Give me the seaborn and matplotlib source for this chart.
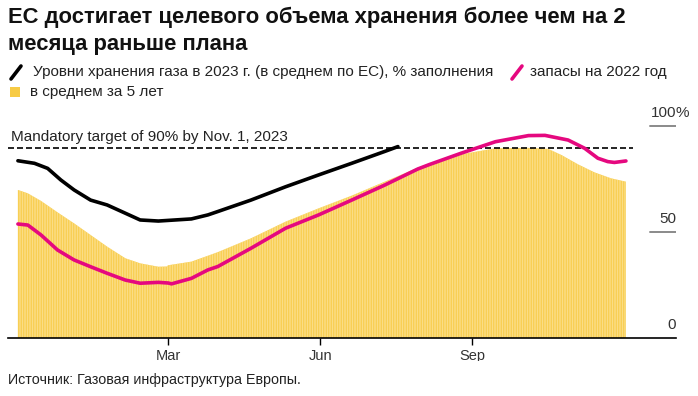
import matplotlib
matplotlib.use("Agg")
import matplotlib.pyplot as plt
from matplotlib.lines import Line2D
from matplotlib.patches import Rectangle
import matplotlib.transforms as mtransforms
import seaborn as sns

# x = days since the start of the storage season, y = % full
avg_days = [0, 6, 14, 24, 34, 44, 54, 65, 74, 85, 90, 91, 105, 115, 121, 141, 162,
            182, 202, 222, 242, 249, 268, 289, 309, 321, 329, 339, 349, 359, 368]
avg_fill = [70.0, 68.4, 64.8, 59.4, 54.2, 48.7, 43.2, 37.7, 35.3, 33.7, 33.8, 34.4,
            36.1, 38.9, 40.6, 47.1, 55.0, 61.3, 67.3, 73.9, 80.5, 82.2, 86.8, 89.7,
            89.9, 89.4, 86.5, 82.1, 78.3, 75.5, 73.9]

days_2023 = [0, 10, 18, 26, 34, 44, 54, 65, 74, 85, 95, 105, 115, 121, 141, 162,
             182, 202, 222, 230]
fill_2023 = [83.8, 82.6, 80.2, 74.7, 70.0, 65.2, 62.9, 59.0, 55.8, 55.3, 55.8, 56.3,
             58.2, 59.8, 65.2, 71.5, 77.1, 82.6, 88.2, 90.5]

days_2022 = [0, 6, 14, 24, 34, 44, 54, 65, 74, 85, 91, 93, 105, 115, 121, 141, 162,
             182, 202, 222, 242, 249, 268, 289, 309, 319, 333, 343, 351, 357, 361, 368]
fill_2022 = [53.9, 53.4, 48.7, 41.6, 36.9, 33.7, 30.6, 27.4, 25.9, 26.3, 26.0, 25.6,
             28.2, 32.2, 33.8, 42.4, 51.9, 58.2, 65.2, 72.3, 79.9, 82.0, 87.3, 92.8,
             95.7, 95.8, 93.6, 89.7, 85.0, 83.4, 83.0, 83.7]

target = 90
month_days = [91, 183, 275]
month_labels = ["Mar", "Jun", "Sep"]
y_ticks = [0, 50, 100]

title = "ЕС достигает целевого объема хранения более чем на 2\nмесяца раньше плана"
label_2023 = "Уровни хранения газа в 2023 г. (в среднем по ЕС), % заполнения"
label_2022 = "запасы на 2022 год"
label_avg = "в среднем за 5 лет"
target_label = "Mandatory target of 90% by Nov. 1, 2023"
source = "Источник: Газовая инфраструктура Европы."

BLACK = "#000000"
PINK = "#E5087F"
YELLOW = "#F7CB45"
STRIPE = "#FDE5A2"

sns.set_style("white")
plt.rcParams["font.family"] = ["Liberation Sans", "DejaVu Sans"]
plt.rcParams["hatch.linewidth"] = 0.5
plt.rcParams["hatch.color"] = STRIPE

W, H = 698, 396
fig = plt.figure(figsize=(W / 100, H / 100), dpi=100)


def fx(px):
    return px / W


def fy(py):
    return 1 - py / H


ax = fig.add_axes([fx(8), fy(338), (676 - 8) / W, (338 - 110) / H])
ax.set_xlim(-6, 398.3)
ax.set_ylim(0, 107.8)

# 5-year average, drawn as a striped area like daily bars
ax.fill_between(avg_days, 0, avg_fill, facecolor=YELLOW, edgecolor=STRIPE,
                linewidth=0, hatch="|" * 10, zorder=1)

sns.lineplot(x=days_2022, y=fill_2022, ax=ax, color=PINK, linewidth=2.6, zorder=3)
sns.lineplot(x=days_2023, y=fill_2023, ax=ax, color=BLACK, linewidth=2.6, zorder=4)

# target line
ax.hlines(target, -6, 372, colors=BLACK, linewidth=1.2,
          linestyles=[(0, (3.6, 1.8))], zorder=2)
ax.text(0.004, target, target_label, fontsize=11, color="#222222",
        ha="left", va="baseline",
        transform=mtransforms.offset_copy(ax.get_yaxis_transform(), fig=fig,
                                          y=7, units="dots"))

# right-side value labels sitting on short rules
lab_tr = mtransforms.offset_copy(ax.get_yaxis_transform(), fig=fig, y=9, units="dots")
for v in y_ticks:
    if v > 0:
        ax.axhline(v, xmin=(650 - 8) / 668, xmax=1, color="#8a8a8a", linewidth=1.4)
    ax.text(1.0, v, str(v), fontsize=11, color="#333333", ha="right",
            va="baseline", transform=lab_tr)
    if v == 100:
        ax.text(1.0, v, "%", fontsize=11, color="#333333", ha="left",
                va="baseline", transform=lab_tr)

ax.set_xticks(month_days)
ax.set_xticklabels(month_labels)
ax.set_yticks([])
ax.tick_params(axis="x", bottom=True, length=5, width=1, color=BLACK, labelsize=10.5,
               labelcolor="#333333", pad=3)
ax.set_xlabel("")
ax.set_ylabel("")
sns.despine(ax=ax, left=True, right=True, top=True)
ax.spines["bottom"].set_color(BLACK)
ax.spines["bottom"].set_linewidth(1.2)

# month labels are cut off at the bottom in the original
fig.add_artist(Rectangle((0, fy(372)), 1, fy(361) - fy(372), transform=fig.transFigure,
                         facecolor="white", edgecolor="none", zorder=10))

# title
fig.text(fx(8), fy(7), title, fontsize=15.8, fontweight="bold", color="#111111",
         ha="left", va="top", linespacing=1.36)

# legend
fig.add_artist(Line2D([fx(11), fx(21)], [fy(79), fy(66)], color=BLACK, linewidth=2.6))
fig.text(fx(33), fy(72), label_2023, fontsize=11, color="#222222", ha="left", va="center")
fig.add_artist(Line2D([fx(512), fx(522)], [fy(79), fy(66)], color=PINK, linewidth=2.6))
fig.text(fx(530), fy(72), label_2022, fontsize=11, color="#222222", ha="left", va="center")
fig.add_artist(Rectangle((fx(10), fy(97)), 10 / W, 10 / H, transform=fig.transFigure,
                         facecolor=YELLOW, edgecolor="none"))
fig.text(fx(30), fy(92), label_avg, fontsize=11, color="#222222", ha="left", va="center")

# source
fig.text(fx(8), fy(380), source, fontsize=10.3, color="#222222", ha="left", va="center")

fig.savefig("out.png", dpi=100)
